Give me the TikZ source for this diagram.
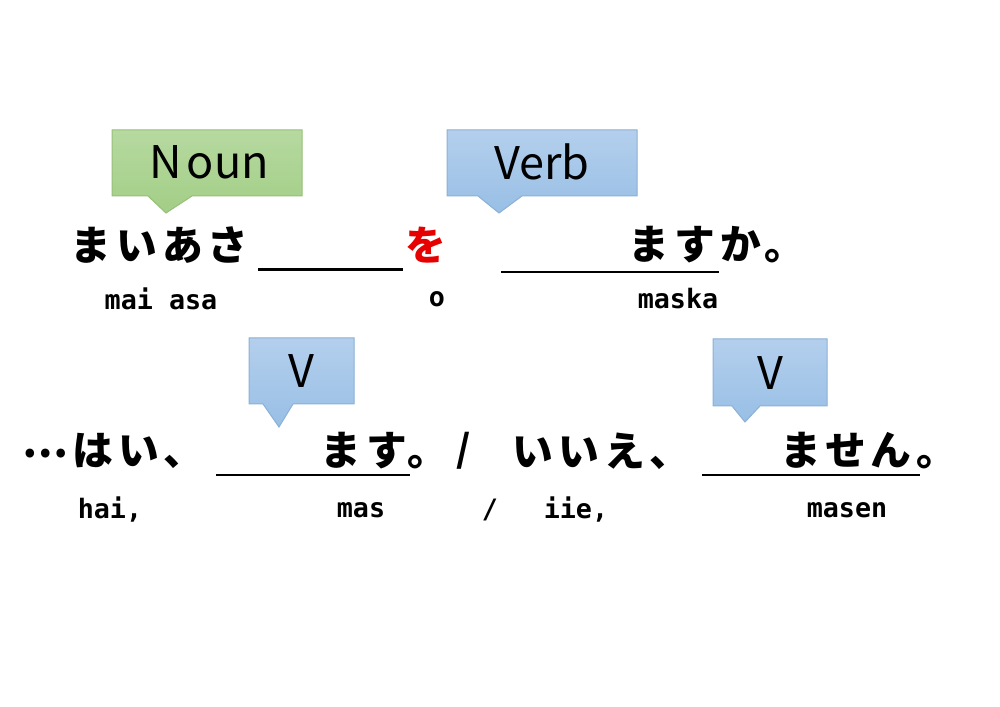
\documentclass[tikz,border=0pt]{standalone}
\usepackage{fontspec}
\setmainfont{Noto Sans CJK JP}
\newfontfamily\jpfont[LetterSpace=12]{Noto Sans CJK JP}
\newfontfamily\romfont{DejaVu Sans Mono}
\definecolor{nountop}{RGB}{182,217,160}
\definecolor{nounbot}{RGB}{163,206,134}
\definecolor{nounline}{RGB}{150,192,120}
\definecolor{verbtop}{RGB}{180,207,237}
\definecolor{verbbot}{RGB}{152,191,229}
\definecolor{verbline}{RGB}{140,176,214}
\definecolor{worange}{RGB}{230,0,0}
\begin{document}
\begin{tikzpicture}[x=0.1mm,y=-0.1mm,
  jp/.style={inner sep=0pt,anchor=west,font=\jpfont\bfseries\fontsize{11.6}{14}\selectfont},
  rom/.style={inner sep=0pt,font=\romfont\bfseries\fontsize{7.6}{9}\selectfont},
  tag/.style={inner sep=0pt,font=\fontsize{12.8}{14}\selectfont},
  nounbox/.style={draw=nounline,line width=0.1mm,top color=nountop,bottom color=nounbot},
  verbbox/.style={draw=verbline,line width=0.1mm,top color=verbtop,bottom color=verbbot},
  blank/.style={line width=0.2mm}]
 \useasboundingbox[fill=white] (0,0) rectangle (1000,707);
 % callouts
 \draw[nounbox] (112,130) -- (302,130) -- (302,196) -- (192,196) -- (166,213) -- (148,196) -- (112,196) -- cycle;
 \draw[verbbox] (447,130) -- (637,130) -- (637,196) -- (522,196) -- (499,213) -- (478,196) -- (447,196) -- cycle;
 \draw[verbbox] (249,338) -- (354,338) -- (354,404) -- (293,404) -- (279,427) -- (263,404) -- (249,404) -- cycle;
 \draw[verbbox] (713,339) -- (827,339) -- (827,406) -- (760,406) -- (745,422) -- (732,406) -- (713,406) -- cycle;
 \node[tag] (noun) at (209,162) {N\kern0.12em oun};
 \node[tag] (verb) at (542,162) {Verb};
 \node[tag] (vyes) at (301,371) {V};
 \node[tag] (vno) at (770,373) {V};
 % question
 \node[jp] (asa) at (70,245) {まいあさ};
 \draw[line width=0.3mm] (258,270) -- (403,270);
 \node[jp,text=worange] (wo) at (405,245) {を};
 \draw[blank] (501,272) -- (719,272);
 \node[jp] (masuka) at (628,245) {ますか。};
 \node[rom] (r-asa) at (161,299) {mai asa};
 \node[rom] (r-wo) at (437,299) {o};
 \node[rom] (r-masuka) at (678,299) {maska};
 % answers
 \node[jp] (hai) at (22,451) {\raisebox{0.2em}{…}\kern0.1em はい、};
 \draw[blank] (216,475) -- (410,475);
 \node[jp] (masu) at (320,451) {ます。};
 \node[jp,font=\jpfont\bfseries\fontsize{10.6}{13}\selectfont] (slash) at (456,451) {/};
 \node[jp] (iie) at (512,451) {いいえ、};
 \draw[blank] (702,475) -- (920,475);
 \node[jp] (masen) at (780,451) {ません。};
 \node[rom] (r-hai) at (110,510) {hai,};
 \node[rom] (r-masu) at (361,510) {mas};
 \node[rom] (r-slash) at (490,510) {/};
 \node[rom] (r-iie) at (576,510) {iie,};
 \node[rom] (r-masen) at (847,510) {masen};
\end{tikzpicture}
\end{document}
